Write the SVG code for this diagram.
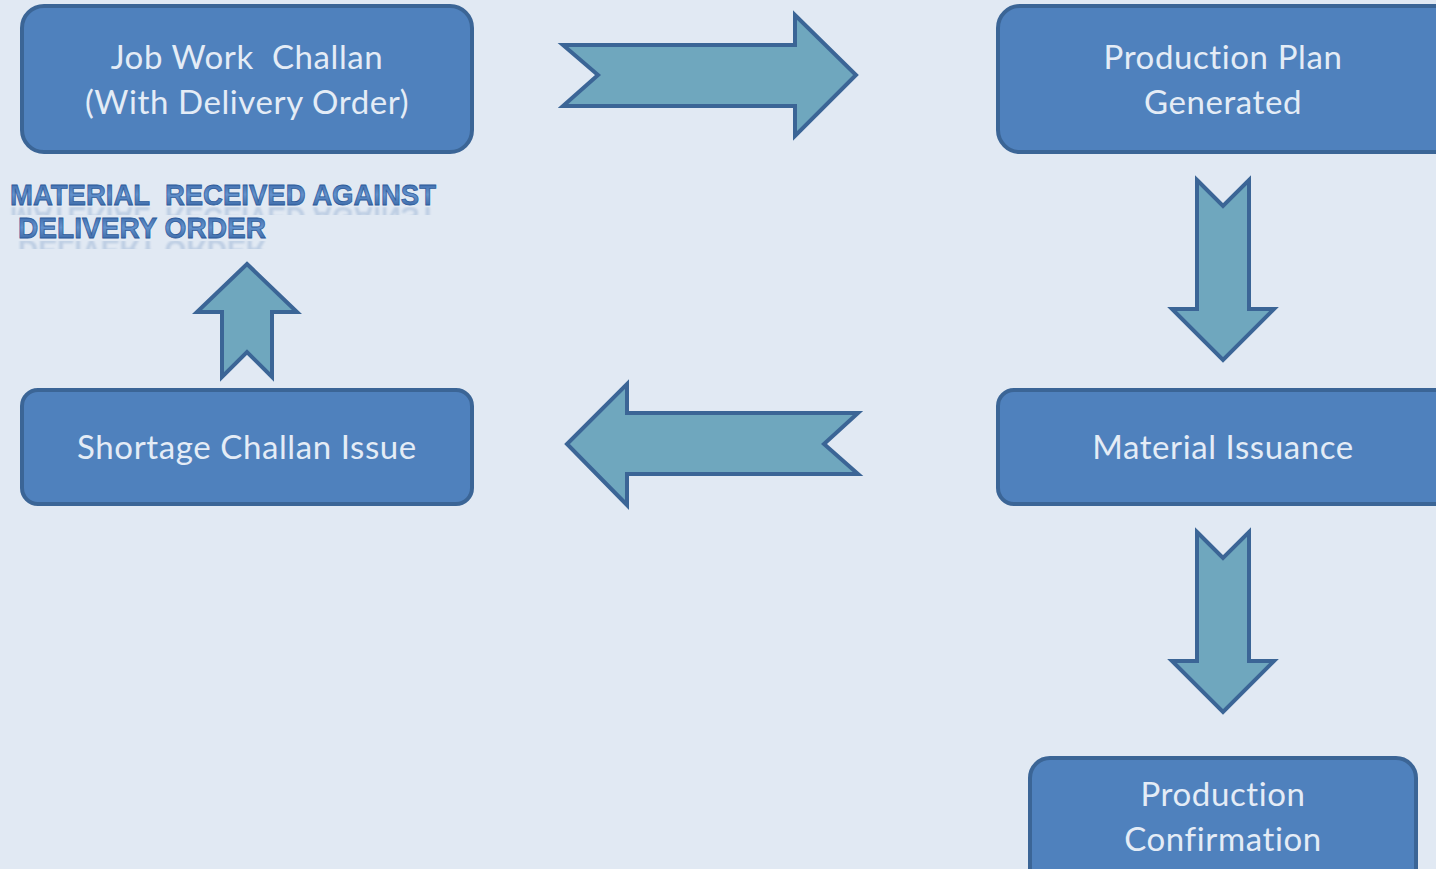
<svg xmlns="http://www.w3.org/2000/svg" width="1436" height="869" viewBox="0 0 1436 869">
  <defs>
    <style>
      .box { fill: #4F81BD; stroke: #3B6596; stroke-width: 4; }
      .arrow { fill: #6FA7BE; stroke: #3B6596; stroke-width: 4; stroke-linejoin: miter; }
      .label { font-family: Lato, "Open Sans", sans-serif; font-size: 33px; letter-spacing: 0.6px; fill: #E4ECF6; text-anchor: middle; white-space: pre; }
      .art { font-family: "Liberation Sans", Arial, sans-serif; font-weight: bold; font-size: 30px; fill: url(#artFill); stroke: #2C5A9A; stroke-width: 0.8; white-space: pre; }
      .artReflect { font-family: "Liberation Sans", Arial, sans-serif; font-weight: bold; font-size: 30px; fill: #6C90C0; opacity: 0.3; white-space: pre; }
    </style>
    <linearGradient id="artFill" x1="0" y1="0" x2="0" y2="1">
      <stop offset="0" stop-color="#2E5C9E"/>
      <stop offset="0.5" stop-color="#6392CD"/>
      <stop offset="1" stop-color="#2D5A98"/>
    </linearGradient>
    <filter id="soft" x="-5%" y="-50%" width="110%" height="200%">
      <feGaussianBlur stdDeviation="0.8"/>
    </filter>
    <clipPath id="reflect1"><rect x="0" y="207" width="460" height="8"/></clipPath>
    <clipPath id="reflect2"><rect x="0" y="241" width="460" height="8"/></clipPath>
  </defs>

  <rect width="1436" height="869" fill="#E1E9F3"/>

  <!-- connectors -->
  <g id="connectors">
    <polygon class="arrow" points="563,45 795,45 795,15 856,75 795,136 795,106 563,106 598,75"/>
    <polygon class="arrow" points="1197,180 1223,206 1249,180 1249,309 1274,309 1223,360 1172,309 1197,309"/>
    <polygon class="arrow" points="858,413 627,413 627,384 567,444 627,505 627,474 858,474 824,444"/>
    <polygon class="arrow" points="1197,532 1223,558 1249,532 1249,661 1274,661 1223,712 1172,661 1197,661"/>
    <polygon class="arrow" points="247,264 297,312 272,312 272,377 247,352 222,377 222,312 197,312"/>
  </g>

  <!-- nodes -->
  <g id="job-work-challan">
    <rect class="box" x="22" y="6" width="450" height="146" rx="22"/>
    <text class="label" x="247" y="69" xml:space="preserve">Job Work  Challan</text>
    <text class="label" x="247" y="114">(With Delivery Order)</text>
  </g>

  <g id="production-plan">
    <rect class="box" x="998" y="6" width="460" height="146" rx="22"/>
    <text class="label" x="1223" y="69">Production Plan</text>
    <text class="label" x="1223" y="114">Generated</text>
  </g>

  <g id="material-received">
    <g clip-path="url(#reflect1)">
      <text class="artReflect" filter="url(#soft)" transform="translate(0,412) scale(1,-1)" x="10" y="205" textLength="426" lengthAdjust="spacingAndGlyphs" xml:space="preserve">MATERIAL  RECEIVED AGAINST</text>
    </g>
    <g clip-path="url(#reflect2)">
      <text class="artReflect" filter="url(#soft)" transform="translate(0,478) scale(1,-1)" x="18" y="238" textLength="248" lengthAdjust="spacingAndGlyphs">DELIVERY ORDER</text>
    </g>
    <text class="art" x="10" y="205" textLength="426" lengthAdjust="spacingAndGlyphs" xml:space="preserve">MATERIAL  RECEIVED AGAINST</text>
    <text class="art" x="18" y="238" textLength="248" lengthAdjust="spacingAndGlyphs">DELIVERY ORDER</text>
  </g>

  <g id="shortage-challan">
    <rect class="box" x="22" y="390" width="450" height="114" rx="16"/>
    <text class="label" x="247" y="459">Shortage Challan Issue</text>
  </g>

  <g id="material-issuance">
    <rect class="box" x="998" y="390" width="460" height="114" rx="16"/>
    <text class="label" x="1223" y="459">Material Issuance</text>
  </g>

  <g id="production-confirmation">
    <rect class="box" x="1030" y="758" width="386" height="130" rx="20"/>
    <text class="label" x="1223" y="806">Production</text>
    <text class="label" x="1223" y="851">Confirmation</text>
  </g>
</svg>
